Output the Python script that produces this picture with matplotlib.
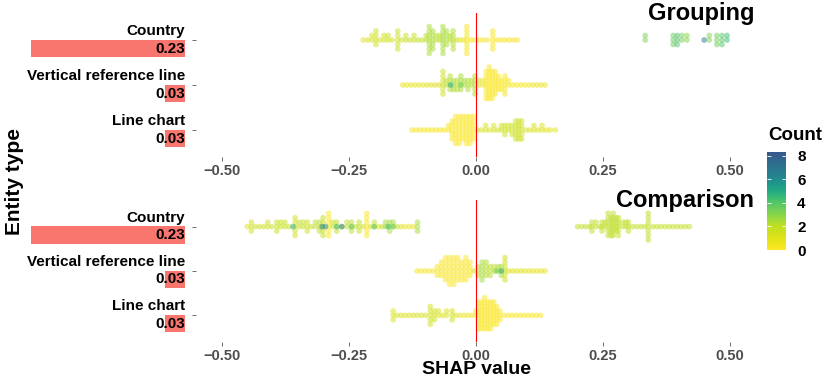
import numpy as np
import matplotlib
matplotlib.use("Agg")
import matplotlib.pyplot as plt
from matplotlib.colors import ListedColormap, Normalize
from matplotlib.colorbar import ColorbarBase

plt.rcParams['font.family'] = ['Liberation Sans', 'DejaVu Sans']
plt.rcParams['font.weight'] = 'bold'

# entity rows, top to bottom
entities = ["Country", "Vertical reference line", "Line chart"]
mean_abs = [0.23, 0.03, 0.03]
facets = ["Grouping", "Comparison"]

# each row: SHAP value of a stack, number of points in that stack, count (colour)
# --- Grouping ---
g_country_x = [-0.222, -0.213, -0.205, -0.197, -0.189, -0.181, -0.173, -0.165, -0.154, -0.146,
               -0.138, -0.130, -0.122, -0.114, -0.106, -0.098, -0.092, -0.085, -0.078, -0.071,
               -0.065, -0.058, -0.051, -0.045, -0.038, -0.031, -0.024, -0.018, -0.010, -0.002,
               0.006, 0.014, 0.022, 0.033, 0.041, 0.049, 0.057, 0.065, 0.073, 0.081,
               0.333, 0.388, 0.396, 0.405, 0.415, 0.449, 0.459, 0.474, 0.484, 0.494]
g_country_n = [1, 1, 2, 4, 1, 2, 2, 1, 5, 1,
               2, 1, 2, 1, 1, 2, 7, 5, 2, 2,
               7, 4, 2, 5, 1, 1, 1, 7, 1, 1,
               1, 1, 1, 5, 1, 1, 1, 1, 1, 1,
               2, 3, 3, 2, 2, 1, 2, 3, 3, 2]
g_country_c = [1.2, 1.2, 1.3, 1.5, 1.4, 1.5, 1.5, 1.5, 1.6, 1.6,
               1.7, 1.8, 1.8, 2.0, 2.0, 2.2, 2.4, 2.4, 2.2, 2.2,
               2.5, 2.4, 2.2, 2.3, 1.5, 1.0, 0.6, 0.2, 0.3, 0.2,
               0.2, 0.2, 0.2, 0.3, 0.2, 0.2, 0.2, 0.2, 0.2, 0.2,
               3.2, 3.6, 4.2, 3.4, 3.0, 7.0, 3.2, 3.5, 4.0, 4.4]

g_vref_x = [-0.144, -0.136, -0.128, -0.120, -0.112, -0.104, -0.096, -0.088, -0.080, -0.072,
            -0.065, -0.058, -0.051, -0.044, -0.037, -0.030, -0.023, -0.016, -0.009, -0.002,
            0.006, 0.014, 0.020, 0.026, 0.032, 0.038, 0.044, 0.050, 0.057, 0.064,
            0.072, 0.080, 0.088, 0.096, 0.104, 0.112, 0.120, 0.128, 0.136,
            -0.050, -0.030]
g_vref_n = [1, 1, 1, 1, 1, 1, 1, 1, 1, 1,
            6, 2, 4, 3, 3, 4, 2, 3, 2, 5,
            2, 2, 7, 8, 7, 6, 4, 3, 5, 2,
            1, 1, 1, 1, 1, 1, 1, 1, 1,
            1, 1]
g_vref_c = [0.8, 0.8, 0.8, 0.8, 0.8, 0.9, 0.9, 1.0, 1.0, 1.2,
            1.5, 2.2, 2.3, 2.5, 2.2, 2.5, 2.5, 2.3, 2.2, 2.4,
            1.0, 0.5, 0.1, 0.1, 0.1, 0.1, 0.1, 0.1, 0.2, 0.3,
            0.3, 0.3, 0.3, 0.3, 0.4, 0.5, 0.6, 0.6, 0.6,
            5.0, 3.5]

g_line_x = [-0.126, -0.118, -0.110, -0.102, -0.094, -0.086, -0.078, -0.070, -0.062, -0.054,
            -0.047, -0.040, -0.033, -0.026, -0.019, -0.012, -0.005, 0.003, 0.011, 0.019,
            0.027, 0.035, 0.043, 0.050, 0.057, 0.064, 0.071, 0.078, 0.084, 0.090,
            0.098, 0.106, 0.114, 0.122, 0.130, 0.138, 0.146, 0.156]
g_line_n = [1, 1, 1, 1, 1, 1, 1, 1, 1, 2,
            5, 7, 7, 6, 7, 7, 6, 1, 1, 2,
            1, 2, 1, 2, 3, 2, 3, 5, 5, 5,
            1, 1, 2, 1, 2, 1, 1, 1]
g_line_c = [0.3, 0.3, 0.3, 0.3, 0.3, 0.3, 0.2, 0.2, 0.2, 0.3,
            0.2, 0.1, 0.1, 0.1, 0.1, 0.1, 0.1, 1.0, 1.2, 1.3,
            1.3, 1.4, 1.5, 1.5, 1.6, 1.6, 1.6, 1.7, 1.7, 1.6,
            1.4, 1.2, 1.2, 1.1, 1.0, 1.0, 0.9, 0.9]

# --- Comparison ---
c_country_x = [-0.450, -0.442, -0.434, -0.426, -0.418, -0.410, -0.402, -0.392, -0.384, -0.376,
               -0.368, -0.356, -0.348, -0.340, -0.332, -0.324, -0.316, -0.308, -0.301, -0.290,
               -0.282, -0.274, -0.264, -0.254, -0.245, -0.237, -0.230, -0.222, -0.215, -0.207,
               -0.200, -0.192, -0.185, -0.178, -0.170, -0.163, -0.155, -0.147, -0.139, -0.131,
               -0.123, -0.115,
               0.200, 0.208, 0.216, 0.224, 0.228, 0.236, 0.244, 0.248, 0.254, 0.260,
               0.266, 0.270, 0.276, 0.280, 0.288, 0.295, 0.300, 0.308, 0.316, 0.324,
               0.332, 0.339, 0.348, 0.356, 0.364, 0.372, 0.380, 0.388, 0.396, 0.404,
               0.412, 0.420,
               -0.360, -0.303, -0.296, -0.274, -0.264, -0.245, -0.200, -0.173, -0.163]
c_country_n = [1, 3, 1, 1, 1, 2, 1, 3, 2, 2,
               1, 5, 2, 2, 3, 1, 2, 3, 5, 6,
               2, 3, 1, 2, 3, 1, 3, 1, 6, 1,
               2, 1, 1, 2, 3, 2, 1, 1, 1, 1,
               1, 3,
               1, 1, 1, 1, 3, 2, 1, 3, 2, 6,
               5, 6, 4, 5, 2, 2, 3, 1, 1, 1,
               1, 7, 1, 1, 1, 1, 1, 1, 1, 1,
               1, 1,
               1, 1, 1, 1, 1, 1, 1, 1, 1]
c_country_c = [1.0, 1.5, 1.5, 1.6, 1.5, 1.5, 1.6, 1.8, 1.8, 1.7,
               1.8, 1.5, 1.8, 1.8, 1.5, 1.8, 2.0, 2.2, 1.8, 0.1,
               1.8, 2.0, 2.0, 2.0, 2.2, 1.8, 2.0, 1.5, 0.1, 1.5,
               2.0, 0.8, 1.8, 2.5, 2.5, 2.5, 2.0, 1.0, 0.5, 0.5,
               0.5, 2.5,
               1.9, 1.9, 2.0, 2.0, 2.0, 2.0, 2.0, 2.0, 2.0, 2.1,
               2.1, 2.1, 2.1, 2.0, 2.0, 2.0, 2.0, 2.0, 2.0, 2.0,
               2.0, 2.1, 1.9, 1.9, 1.9, 1.8, 1.8, 1.8, 1.8, 1.8,
               1.8, 1.8,
               5.0, 6.5, 6.0, 4.5, 7.0, 4.0, 4.0, 4.5, 3.5]

c_vref_x = [-0.116, -0.108, -0.100, -0.092, -0.084, -0.076, -0.068, -0.060, -0.052, -0.044,
            -0.036, -0.028, -0.020, -0.012, -0.004, 0.004, 0.012, 0.020, 0.028, 0.036,
            0.044, 0.050, 0.057, 0.064, 0.072, 0.080, 0.088, 0.096, 0.104, 0.112,
            0.120, 0.128, 0.136,
            0.050, 0.040]
c_vref_n = [1, 1, 1, 1, 1, 3, 4, 6, 7, 7,
            6, 5, 6, 4, 1, 3, 5, 4, 3, 2,
            2, 3, 6, 1, 1, 1, 1, 1, 1, 1,
            1, 1, 1,
            1, 1]
c_vref_c = [0.3, 0.3, 0.3, 0.3, 0.3, 0.2, 0.2, 0.1, 0.1, 0.1,
            0.1, 0.1, 0.1, 0.2, 1.5, 2.3, 2.5, 2.3, 2.2, 2.2,
            2.5, 2.5, 1.5, 1.2, 1.1, 1.0, 1.0, 1.0, 0.9, 0.9,
            0.8, 0.8, 0.8,
            5.0, 3.5]

c_line_x = [-0.163, -0.155, -0.147, -0.139, -0.131, -0.123, -0.115, -0.107, -0.099, -0.090,
            -0.082, -0.074, -0.066, -0.058, -0.047, -0.040, -0.032, -0.024, -0.016, -0.008,
            0.000, 0.005, 0.011, 0.017, 0.023, 0.029, 0.035, 0.041, 0.047, 0.055,
            0.063, 0.071, 0.079, 0.087, 0.095, 0.103, 0.111, 0.119, 0.127]
c_line_n = [3, 1, 1, 1, 1, 1, 1, 1, 1, 5,
            3, 2, 1, 2, 3, 1, 1, 1, 1, 1,
            2, 7, 7, 8, 7, 7, 6, 5, 3, 1,
            1, 1, 1, 1, 1, 1, 1, 1, 1]
c_line_c = [1.2, 1.2, 1.1, 1.1, 1.1, 1.2, 1.3, 1.3, 1.4, 1.5,
            1.5, 1.3, 1.2, 1.2, 1.5, 1.0, 0.8, 0.6, 0.5, 0.4,
            0.3, 0.1, 0.1, 0.1, 0.1, 0.1, 0.1, 0.1, 0.1, 0.3,
            0.3, 0.3, 0.3, 0.3, 0.3, 0.3, 0.3, 0.3, 0.3]

rows = {
    "Grouping": [(g_country_x, g_country_n, g_country_c),
                 (g_vref_x, g_vref_n, g_vref_c),
                 (g_line_x, g_line_n, g_line_c)],
    "Comparison": [(c_country_x, c_country_n, c_country_c),
                   (c_vref_x, c_vref_n, c_vref_c),
                   (c_line_x, c_line_n, c_line_c)],
}

# reversed viridis, yellow at 0 -> blue at 8
anchors = np.linspace(0, 1, 256)
vir_pos = np.interp(anchors, [0, 0.25, 0.5, 0.75, 1.0], [1.0, 0.9, 0.72, 0.45, 0.27])
cmap = ListedColormap(plt.get_cmap("viridis")(vir_pos))
norm = Normalize(0, 8.34)

W, H = 830, 383
fig = plt.figure(figsize=(W / 100, H / 100), dpi=100)

panel_px = {"Grouping": (13, 157, 20), "Comparison": (200, 342, 207)}
dy = 0.1
order = [0, 1, -1, 2, -2, 3, -3, 4, -4]

for facet in facets:
    top, bot, title_base = panel_px[facet]
    rect_b = 1 - bot / H
    rect_h = (bot - top) / H
    ax = fig.add_axes([196 / W, rect_b, 560 / W, rect_h])
    bax = fig.add_axes([0, rect_b, 185 / W, rect_h])

    ax.set_xlim(-0.551, 0.551)
    ax.set_ylim(0.4, 3.6)
    ax.axvline(0, color='red', lw=0.8, zorder=3)

    for i, (xs, ns, cs) in enumerate(rows[facet]):
        ypos = 3 - i
        px, py, pc = [], [], []
        for x, n, c in zip(xs, ns, cs):
            for k in range(n):
                px.append(x)
                py.append(ypos + order[k] * dy)
                pc.append(c)
        ax.scatter(px, py, c=pc, cmap=cmap, norm=norm, s=17, alpha=0.5,
                   linewidths=0, zorder=2)

    ax.set_xticks([-0.5, -0.25, 0, 0.25, 0.5])
    ax.set_xticklabels(["\u22120.50", "\u22120.25", "0.00", "0.25", "0.50"])
    ax.set_yticks([1, 2, 3])
    ax.set_yticklabels([])
    ax.tick_params(length=3, width=0.5, color='#333333', labelcolor='#4d4d4d',
                   labelsize=10.5, pad=2)
    for sp in ax.spines.values():
        sp.set_visible(False)

    fig.text(754 / W, 1 - title_base / H, facet, ha='right', va='baseline',
             fontsize=17, fontweight='bold')

    # mean |SHAP| bars behind the row labels
    bax.set_xlim(0.276, 0)
    bax.set_ylim(0.4, 3.6)
    bax.axis('off')
    for i, (name, val) in enumerate(zip(entities, mean_abs)):
        ypos = 3 - i
        bax.barh(ypos - 0.19, val, height=0.39, color='#f8766d', zorder=1)
        bax.text(0, ypos + 0.2, name, ha='right', va='center', fontsize=11,
                 fontweight='bold', zorder=2)
        bax.text(0, ypos - 0.19, f"{val:.2f}", ha='right', va='center', fontsize=11,
                 fontweight='bold', zorder=2)

fig.text(476 / W, 1 - 370 / H, "SHAP value", ha='center', va='center',
         fontsize=14, fontweight='bold')
fig.text(14 / W, 1 - 182 / H, "Entity type", ha='center', va='center',
         rotation=90, fontsize=15, fontweight='bold')

cax = fig.add_axes([767 / W, 1 - 250 / H, 19 / W, 98 / H])
cb = ColorbarBase(cax, cmap=cmap, norm=norm, ticks=[0, 2, 4, 6, 8])
cb.outline.set_visible(False)
cax.tick_params(direction='in', color='white', length=3, width=0.6,
                left=True, right=True, labelsize=11, pad=8)
for t in cax.get_yticklabels():
    t.set_fontweight('bold')
fig.text(768 / W, 1 - 136 / H, "Count", ha='left', va='center',
         fontsize=13.5, fontweight='bold')

fig.savefig("out.png", dpi=100)
